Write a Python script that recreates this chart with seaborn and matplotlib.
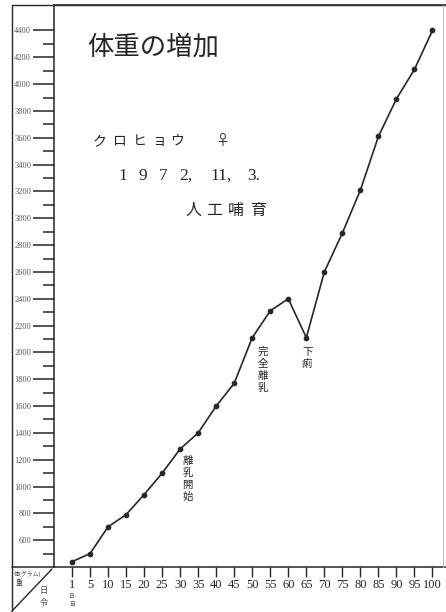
import matplotlib
matplotlib.use("Agg")
import matplotlib.pyplot as plt
from matplotlib.lines import Line2D
import seaborn as sns

# ---- data ----
day_labels = ["1", "5", "10", "15", "20", "25", "30", "35", "40", "45", "50",
              "55", "60", "65", "70", "75", "80", "85", "90", "95", "100"]
weights_g = [440, 500, 700, 790, 940, 1100, 1280, 1400, 1600, 1770, 2110,
             2310, 2400, 2110, 2600, 2890, 3210, 3610, 3890, 4110, 4400]
y_major = list(range(600, 4401, 200))
y_minor = list(range(500, 4301, 200))
notes = [("離乳開始", "30", 1230), ("完全離乳", "50", 2040), ("下痢", "65", 2040)]

sns.set_style("ticks")
plt.rcParams["font.family"] = ["Noto Sans CJK JP", "DejaVu Sans"]
SERIF = ["Liberation Serif", "DejaVu Serif"]
INK = "#262626"

W, H = 446, 612
fig = plt.figure(figsize=(W / 100, H / 100), dpi=100)
fig.patch.set_facecolor("white")


def fx(x):
    return x / W


def fy(y):
    return 1 - y / H


ax = fig.add_axes([fx(54), fy(567), fx(446) - fx(54), fy(5) - fy(567)])
ax.set_facecolor("white")

sns.pointplot(x=day_labels, y=weights_g, color=INK, markers="o",
              markersize=3.2, linewidth=1.2, errorbar=None, ax=ax)

ax.set_xlim(-1.0, 20.75)
ax.set_ylim(400, 4590)
ax.set_xlabel("")
ax.set_ylabel("")

ax.set_yticks(y_major)
ax.set_yticks(y_minor, minor=True)
ax.set_yticklabels([str(v) for v in y_major], family=SERIF, fontsize=6,
                   color="#555555")
ax.tick_params(axis="y", which="major", direction="out", length=15, width=1.1,
               color=INK, pad=1.5)
ax.tick_params(axis="y", which="minor", direction="out", length=8, width=1.1,
               color=INK)
ax.set_xticks(range(len(day_labels)))
ax.set_xticklabels(day_labels, family=SERIF, fontsize=9, color=INK)
ax.tick_params(axis="x", direction="out", length=7, width=1.0, color=INK, pad=2)

for side in ["left", "bottom", "top"]:
    ax.spines[side].set_visible(True)
    ax.spines[side].set_color(INK)
    ax.spines[side].set_linewidth(1.1)
ax.spines["right"].set_visible(False)

# outer frame of the sheet
fig.add_artist(Line2D([fx(12), fx(12)], [fy(5), fy(612)], color=INK, lw=1.0))
fig.add_artist(Line2D([fx(12), fx(446)], [fy(5), fy(5)], color=INK, lw=1.0))
fig.add_artist(Line2D([fx(12), fx(54)], [fy(567), fy(567)], color=INK, lw=1.1))
fig.add_artist(Line2D([fx(443), fx(443)], [fy(5), fy(567)], color="#bbbbbb", lw=0.7))
# corner cell diagonal
fig.add_artist(Line2D([fx(12), fx(52)], [fy(611), fy(569)], color=INK, lw=1.0))
fig.text(fx(14), fy(574), "体(グラム)", fontsize=4.2, color="#444", va="center")
fig.text(fx(16), fy(583), "重", fontsize=5, color="#444", va="center")
fig.text(fx(44), fy(591), "日", fontsize=6, color="#444", va="center", ha="center")
fig.text(fx(44), fy(603), "令", fontsize=6, color="#444", va="center", ha="center")
fig.text(fx(72), fy(597), "日", fontsize=4.2, color="#555", va="center", ha="center")
fig.text(fx(72), fy(605), "目", fontsize=4.2, color="#555", va="center", ha="center")

# headings
fig.text(fx(87), fy(47), "体重の増加", fontsize=19, color=INK, va="center")
for ch, x in zip(["ク", "ロ", "ヒ", "ョ", "ウ", "♀"], [100, 119, 140, 159, 177, 222]):
    fig.text(fx(x), fy(141), ch, fontsize=10, color=INK, va="center", ha="center")
for tok, x in zip(["1", "9", "7", "2,", "11,", "3."], [123, 143, 163, 186, 221, 254]):
    fig.text(fx(x), fy(176), tok, fontsize=12.5, color=INK, va="center",
             ha="center", family=SERIF)
for ch, x in zip(["人", "工", "哺", "育"], [193, 214, 236, 258]):
    fig.text(fx(x), fy(210), ch, fontsize=11.5, color=INK, va="center", ha="center")

# vertical annotations
cats = {d: i for i, d in enumerate(day_labels)}
offsets = {"離乳開始": 0.4, "完全離乳": 0.6, "下痢": 0.05}
for txt, day, ytop in notes:
    ax.text(cats[day] + offsets[txt], ytop, "\n".join(txt), fontsize=7.5,
            color=INK, ha="center", va="top", linespacing=1.25)

fig.savefig("out.png", dpi=100)
